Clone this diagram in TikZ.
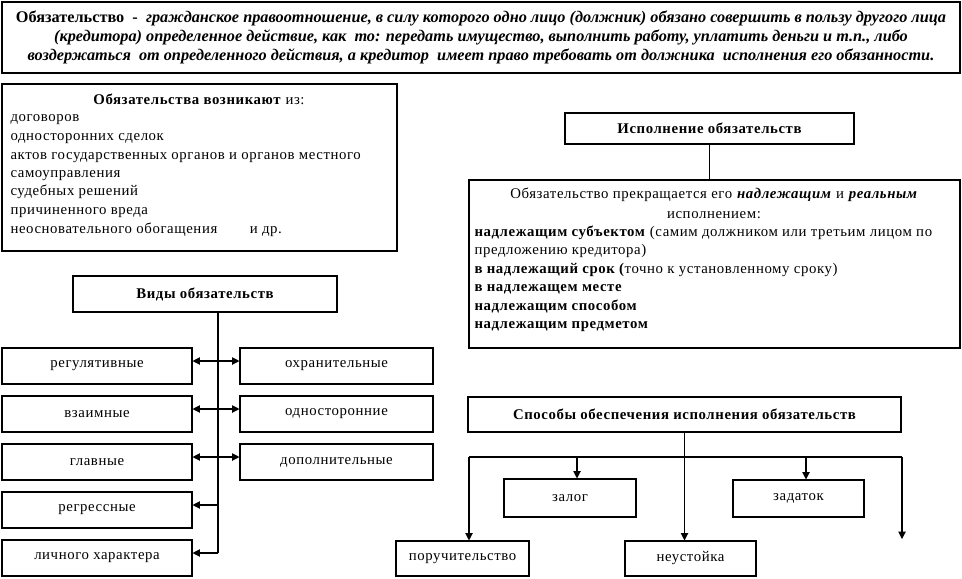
\documentclass[tikz,border=0pt]{standalone}
\usepackage{fontspec}
\setmainfont{Liberation Serif}
\newfontfamily\spc[LetterSpace=4]{Liberation Serif}
\usetikzlibrary{arrows.meta}
\begin{document}
\begin{tikzpicture}[x=0.75pt,y=-0.75pt,line width=0.8pt,
  bx/.style={draw,rectangle,inner sep=0pt,font=\spc\fontsize{11.1}{12}\selectfont},
  tx/.style={inner sep=0pt,font=\spc\fontsize{11.1}{12}\selectfont},
  arr/.style={-{Triangle[length=5.5pt,width=5.5pt]}},
  darr/.style={{Triangle[length=5.5pt,width=5.5pt]}-{Triangle[length=5.5pt,width=5.5pt]}}]
\useasboundingbox (0,0) rectangle (962,578);
% top definition box
\node[draw,rectangle,inner sep=0pt,minimum width=718.5pt,minimum height=53.25pt] (def) at (481,37.5) {};
\node[inner sep=0pt,font=\fontsize{12.2}{14.25}\selectfont\bfseries,align=center] (deftext) at (481,37) {%
Обязательство\enspace-\enspace\textit{гражданское правоотношение, в силу которого одно лицо (должник) обязано совершить в пользу другого лица}\\
\textit{(кредитора) определенное действие, как\enspace то: передать имущество, выполнить работу, уплатить деньги и т.п., либо}\\
\textit{воздержаться\enspace от определенного действия, а кредитор\enspace имеет право требовать от должника\enspace исполнения его обязанности.}};
% origin box
\node[bx,minimum width=296.25pt,minimum height=125.25pt] (voz) at (199.5,167.5) {};
\node[tx,anchor=base] (voztitle) at (199,104) {\textbf{Обязательства возникают} из:};
\node[tx,anchor=base west] (v1) at (10,121) {договоров};
\node[tx,anchor=base west] (v2) at (10,140) {односторонних сделок};
\node[tx,anchor=base west] (v3) at (10,159) {актов государственных органов и органов местного};
\node[tx,anchor=base west] (v4) at (10,177) {самоуправления};
\node[tx,anchor=base west] (v5) at (10,195) {судебных решений};
\node[tx,anchor=base west] (v6) at (10,214) {причиненного вреда};
\node[tx,anchor=base west] (v7) at (10,233) {неосновательного обогащения\hspace{2.2em}и др.};
% performance
\node[bx,minimum width=216.75pt,minimum height=23.25pt,font=\spc\fontsize{11.1}{12}\selectfont\bfseries] (isp) at (709.5,128.5) {Исполнение обязательств};
\node[bx,minimum width=368.25pt,minimum height=126pt] (ispT) at (714.5,264) {};
\draw (isp.south) -- (isp.south |- ispT.north);
\node[tx,anchor=base] (i1) at (714,198) {Обязательство прекращается его \textbf{\textit{надлежащим}} и \textbf{\textit{реальным}}};
\node[tx,anchor=base] (i2) at (714,218) {исполнением:};
\node[tx,anchor=base west] (i3) at (474,236) {\textbf{надлежащим субъектом} (самим должником или третьим лицом по};
\node[tx,anchor=base west] (i4) at (474,254) {предложению кредитора)};
\node[tx,anchor=base west] (i5) at (474,273) {\textbf{в надлежащий срок (}точно к установленному сроку)};
\node[tx,anchor=base west] (i6) at (474,291) {\textbf{в надлежащем месте}};
\node[tx,anchor=base west] (i7) at (474,310) {\textbf{надлежащим способом}};
\node[tx,anchor=base west] (i8) at (474,328) {\textbf{надлежащим предметом}};
% kinds
\node[bx,minimum width=198pt,minimum height=27pt,font=\spc\fontsize{11.1}{12}\selectfont\bfseries] (vid) at (205,294) {Виды обязательств};
\node[bx,minimum width=142.5pt,minimum height=27pt] (k1) at (97,366) {регулятивные};
\node[bx,minimum width=142.5pt,minimum height=27pt] (k2) at (97,414) {взаимные};
\node[bx,minimum width=142.5pt,minimum height=27pt] (k3) at (97,462) {главные};
\node[bx,minimum width=142.5pt,minimum height=27pt] (k4) at (97,510) {регрессные};
\node[bx,minimum width=142.5pt,minimum height=27pt] (k5) at (97,558) {личного характера};
\node[bx,minimum width=144.75pt,minimum height=27pt] (r1) at (336.5,366) {охранительные};
\node[bx,minimum width=144.75pt,minimum height=27pt] (r2) at (336.5,414) {односторонние};
\node[bx,minimum width=144.75pt,minimum height=27pt] (r3) at (336.5,462) {дополнительные};
\coordinate (vtop) at ([xshift=9.75pt]vid.south);
\coordinate (vbot) at ([yshift=3.75pt]vtop |- k5.east);
\draw (vtop) -- (vbot);
\draw[darr] ([yshift=3.75pt]k1.east) -- ([yshift=3.75pt]r1.west);
\draw[darr] ([yshift=3.75pt]k2.east) -- ([yshift=3.75pt]r2.west);
\draw[darr] ([yshift=3.75pt]k3.east) -- ([yshift=3.75pt]r3.west);
\draw[arr] ([yshift=3.75pt]vtop |- k4.east) -- ([yshift=3.75pt]k4.east);
\draw[arr] (vbot) -- ([yshift=3.75pt]k5.east);
% securing
\node[bx,minimum width=324.75pt,minimum height=26.25pt,font=\spc\fontsize{11.1}{12}\selectfont\bfseries] (spo) at (684.5,414.5) {Способы обеспечения исполнения обязательств};
\node[bx,minimum width=99.75pt,minimum height=26.25pt] (por) at (462.5,558.5) {поручительство};
\node[bx,minimum width=98.25pt,minimum height=26.25pt] (neu) at (690.5,558.5) {неустойка};
\node[bx,minimum width=99pt,minimum height=28.5pt] (zal) at (570,498) {залог};
\node[bx,minimum width=98.25pt,minimum height=27.75pt] (zad) at (798.5,498.5) {задаток};
\coordinate (hL) at (469,457);
\coordinate (hR) at (902,457);
\coordinate (hZ) at (577,457);
\coordinate (hD) at (806,457);
\coordinate (endR) at (902,539);
\draw (hL) -- (hR);
\draw[arr] (spo.south) -- (spo.south |- neu.north);
\draw[arr] (hL) -- (hL |- por.north);
\draw[arr] (hZ) -- (hZ |- zal.north);
\draw[arr] (hD) -- (hD |- zad.north);
\draw[arr] (hR) -- (endR);
\end{tikzpicture}
\end{document}
